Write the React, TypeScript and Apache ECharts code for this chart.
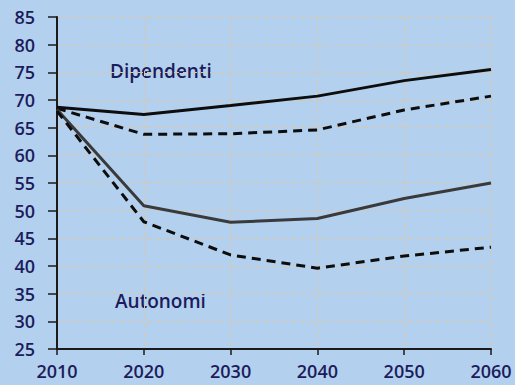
import React, { useEffect, useRef } from "react";
import * as echarts from "echarts";

const years = ["2010", "2020", "2030", "2040", "2050", "2060"];
const dipendentiSolid = [68.7, 67.4, 69.0, 70.7, 73.5, 75.5];
const dipendentiDashed = [68.5, 63.8, 63.9, 64.6, 68.2, 70.7];
const autonomiSolid = [68.3, 50.9, 47.9, 48.6, 52.2, 55.0];
const autonomiDashed = [68.0, 48.0, 42.0, 39.6, 41.8, 43.4];

export default function App() {
  const ref = useRef<HTMLDivElement>(null);
  useEffect(() => {
    if (!ref.current) return;
    const chart = echarts.init(ref.current, undefined, { renderer: "svg" });
    const textColor = "#1c1c5c";
    const gridLine = { show: true, lineStyle: { color: "#dcc6a8", type: [5, 4] as any, width: 1 } };
    chart.setOption({
      animation: false,
      backgroundColor: "#b3d1ee",
      textStyle: { fontFamily: "Open Sans" },
      grid: { left: 57, right: 24, top: 17, bottom: 36 },
      xAxis: {
        type: "category",
        data: years,
        boundaryGap: false,
        axisLine: { lineStyle: { color: "#1a1a1a", width: 2 } },
        axisTick: { show: true, length: 6, lineStyle: { color: "#1a1a1a", width: 1.5 } },
        axisLabel: { color: textColor, fontSize: 18, fontWeight: 600, margin: 13, fontFamily: "Open Sans" },
        splitLine: gridLine,
      },
      yAxis: {
        type: "value",
        min: 25,
        max: 85,
        interval: 5,
        axisLine: { show: true, lineStyle: { color: "#1a1a1a", width: 2 } },
        axisTick: { show: true, length: 9, lineStyle: { color: "#1a1a1a", width: 1.5 } },
        axisLabel: { color: textColor, fontSize: 18, fontWeight: 600, margin: 22, fontFamily: "Open Sans" },
        splitLine: gridLine,
      },
      graphic: [
        {
          type: "text",
          x: 110,
          y: 71,
          style: { text: "Dipendenti", fill: textColor, font: "600 19px 'Open Sans'", verticalAlign: "middle" },
        },
        {
          type: "text",
          x: 115,
          y: 301,
          style: { text: "Autonomi", fill: textColor, font: "600 19px 'Open Sans'", verticalAlign: "middle" },
        },
      ],
      series: [
        { type: "line", data: dipendentiSolid, symbol: "none", lineStyle: { color: "#0d0d0d", width: 3 } },
        { type: "line", data: dipendentiDashed, symbol: "none", lineStyle: { color: "#0d0d0d", width: 3, type: [9, 6] } },
        { type: "line", data: autonomiSolid, symbol: "none", lineStyle: { color: "#3a3a3a", width: 3 } },
        { type: "line", data: autonomiDashed, symbol: "none", lineStyle: { color: "#0d0d0d", width: 3, type: [9, 6] } },
      ],
    });
    return () => chart.dispose();
  }, []);
  return <div ref={ref} style={{ width: 515, height: 385, position: "absolute", left: 0, top: 0 }} />;
}
